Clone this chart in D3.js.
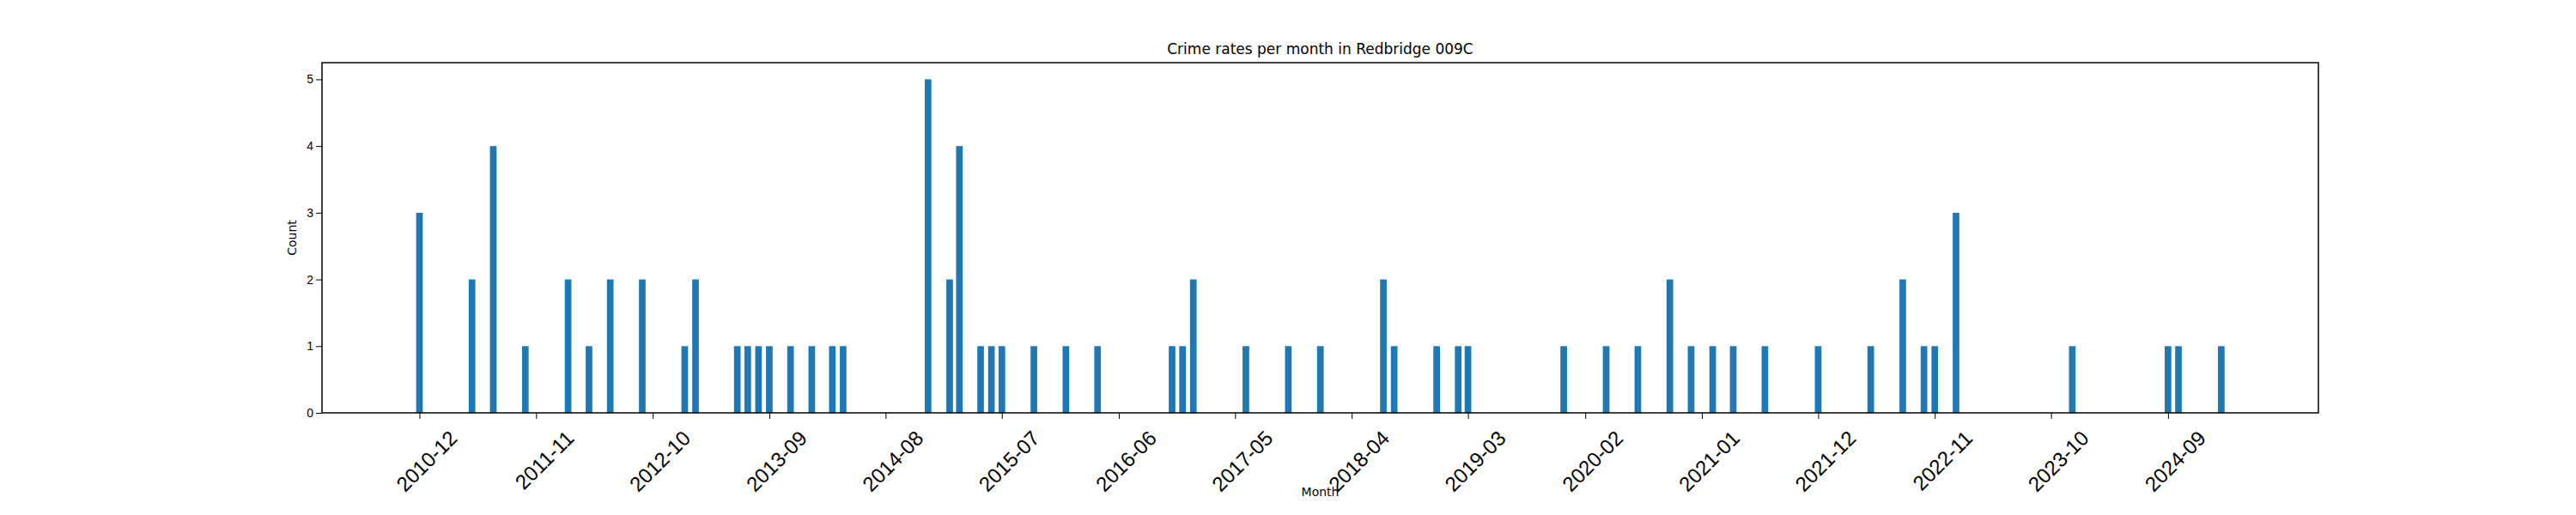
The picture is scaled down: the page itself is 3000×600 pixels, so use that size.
<!DOCTYPE html>
<html><head><meta charset="utf-8">
<script src="https://cdn.jsdelivr.net/npm/d3@7"></script>
<style>body{margin:0;background:#fff}svg{font-family:"DejaVu Sans",sans-serif}</style>
</head><body><div id="chart"></div>
<script>
var months = ["2010-12","2011-05","2011-07","2011-10","2012-02","2012-04","2012-06","2012-09","2013-01","2013-02",
  "2013-06","2013-07","2013-08","2013-09","2013-11","2014-01","2014-03","2014-04","2014-12","2015-02",
  "2015-03","2015-05","2015-06","2015-07","2015-10","2016-01","2016-04","2016-11","2016-12","2017-01",
  "2017-06","2017-10","2018-01","2018-07","2018-08","2018-12","2019-02","2019-03","2019-12","2020-04",
  "2020-07","2020-10","2020-12","2021-02","2021-04","2021-07","2021-12","2022-05","2022-08","2022-10",
  "2022-11","2023-01","2023-12","2024-09","2024-10","2025-02"];
var counts = [3,2,4,1,2,1,2,2,1,2, 1,1,1,1,1,1,1,1,5,2, 4,1,1,1,1,1,1,1,1,2, 1,1,1,2,1,1,1,1,1,1, 1,2,1,1,1,1,1,1,2,1, 1,3,1,1,1,1];
var tickLabels = ["2010-12","2011-11","2012-10","2013-09","2014-08","2015-07","2016-06","2017-05","2018-04","2019-03",
  "2020-02","2021-01","2021-12","2022-11","2023-10","2024-09"];
var yTicks = [0,1,2,3,4,5];

var W = 3000, H = 600;
var L = 375, R = 2700, T = 73, B = 481;
var parse = d3.timeParse("%Y-%m");
var data = months.map(function(m, i){ return {date: parse(m), count: counts[i]}; });

var svg = d3.select("#chart").append("svg").attr("width", W).attr("height", H);

var x = d3.scaleTime()
  .domain([d3.timeDay.offset(parse("2010-12"), -280), d3.timeDay.offset(parse("2025-02"), 279)])
  .range([L, R]);
var y = d3.scaleLinear().domain([0, 5.25]).range([B, T]);

var barW = x(d3.timeDay.offset(parse("2015-01"), 19)) - x(parse("2015-01"));

svg.selectAll("rect.bar").data(data).enter().append("rect")
  .attr("class", "bar")
  .attr("x", function(d){ return x(d.date) - barW / 2; })
  .attr("y", function(d){ return y(d.count); })
  .attr("width", barW)
  .attr("height", function(d){ return y(0) - y(d.count); })
  .attr("fill", "#1f77b4");

var xAxis = d3.axisBottom(x).tickValues(tickLabels.map(parse)).tickFormat(d3.timeFormat("%Y-%m")).tickSizeOuter(0).tickSize(7);
var gx = svg.append("g").attr("transform", "translate(0," + B + ")").call(xAxis);
gx.selectAll("text")
  .style("font-size", "24px").attr("fill", "#000")
  .attr("text-anchor", "end")
  .attr("dy", "0.35em")
  .attr("transform", "translate(32,18) rotate(-45)");
gx.select(".domain").remove();

var yAxis = d3.axisLeft(y).tickValues(yTicks).tickFormat(d3.format("d")).tickSize(7).tickSizeOuter(0);
var gy = svg.append("g").attr("transform", "translate(" + L + ",0)").call(yAxis);
gy.selectAll("text").style("font-size", "14px").attr("fill", "#000");
gy.select(".domain").remove();

svg.append("rect").attr("x", L).attr("y", T).attr("width", R - L).attr("height", B - T)
  .attr("fill", "none").attr("stroke", "#000").attr("stroke-width", 1.5);

svg.append("text").attr("x", (L + R) / 2).attr("y", T - 10).attr("text-anchor", "middle")
  .style("font-size", "17px").text("Crime rates per month in Redbridge 009C");
svg.append("text").attr("x", (L + R) / 2).attr("y", 578).attr("text-anchor", "middle")
  .style("font-size", "14px").text("Month");
svg.append("text").attr("transform", "translate(" + (L - 30) + "," + ((T + B) / 2) + ") rotate(-90)")
  .attr("text-anchor", "middle").style("font-size", "14px").text("Count");
</script></body></html>
